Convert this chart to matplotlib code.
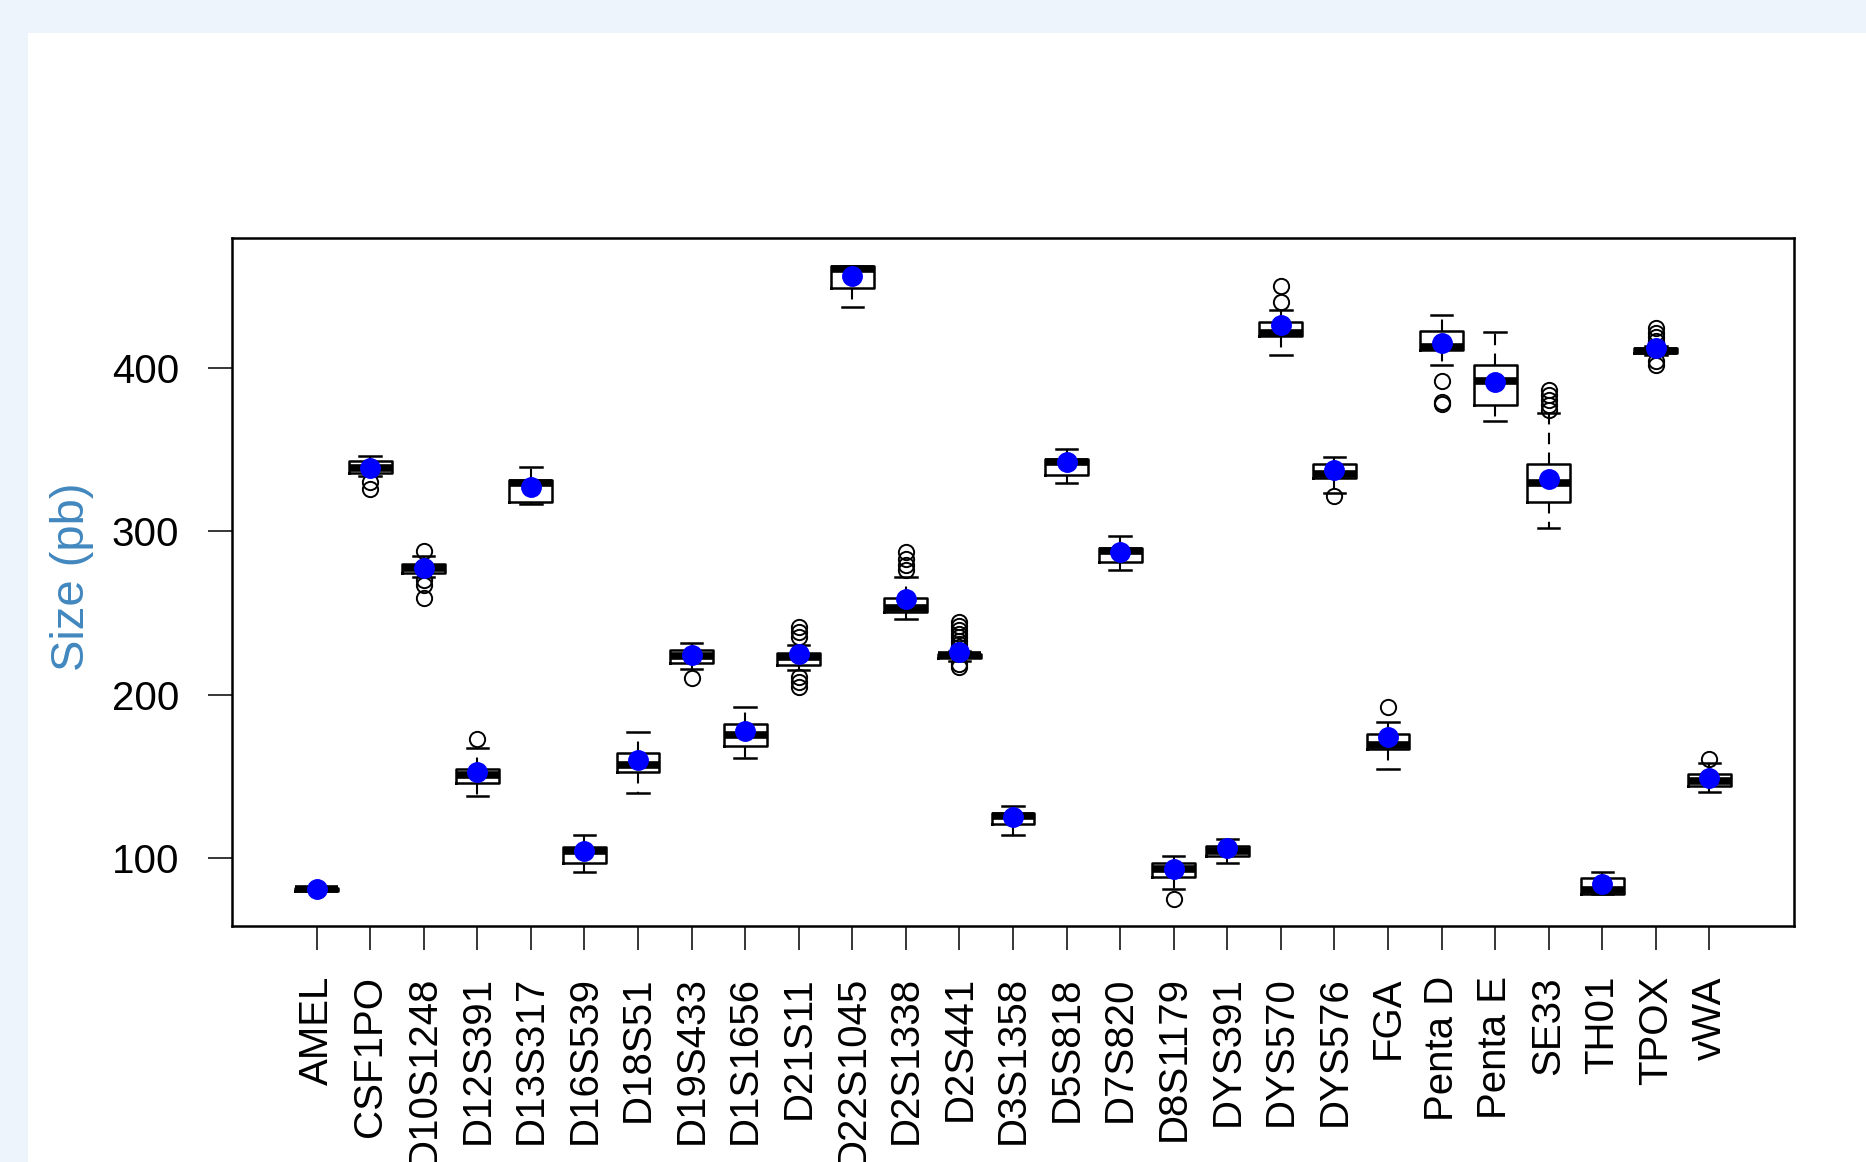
import numpy as np
import matplotlib.pyplot as plt
from matplotlib.patches import Rectangle

plt.rcParams['font.family'] = ['Liberation Sans', 'DejaVu Sans']

# STR loci on the x axis
loci = ['AMEL', 'CSF1PO', 'D10S1248', 'D12S391', 'D13S317', 'D16S539', 'D18S51',
        'D19S433', 'D1S1656', 'D21S11', 'D22S1045', 'D2S1338', 'D2S441', 'D3S1358',
        'D5S818', 'D7S820', 'D8S1179', 'DYS391', 'DYS570', 'DYS576', 'FGA',
        'Penta D', 'Penta E', 'SE33', 'TH01', 'TPOX', 'vWA']

# box statistics (size in pb)
whislo = [79.8, 333.5, 272.0, 138.3, 316.8, 91.8, 140.0, 215.5, 161.0, 215.1,
          437.0, 246.0, 220.5, 114.2, 329.7, 276.4, 81.4, 97.0, 407.6, 323.4,
          154.4, 401.6, 367.6, 301.7, 77.9, 407.6, 140.2]
q1 = [80.0, 335.7, 274.2, 146.2, 318.0, 97.0, 152.9, 219.2, 168.6, 218.1,
      448.6, 250.4, 222.5, 121.1, 334.3, 281.0, 88.2, 101.4, 419.1, 332.4,
      167.0, 410.8, 377.2, 318.0, 77.9, 409.0, 144.3]
med = [81.0, 338.5, 277.5, 151.1, 329.4, 104.6, 157.0, 223.5, 175.3, 223.2,
       460.5, 252.9, 224.0, 126.0, 342.0, 287.9, 93.2, 104.1, 421.3, 335.2,
       168.9, 412.8, 392.0, 329.7, 80.5, 410.4, 147.0]
q3 = [81.8, 343.0, 280.2, 154.7, 331.1, 106.6, 164.1, 227.3, 182.0, 225.3,
      462.3, 259.1, 225.0, 127.9, 343.9, 289.8, 97.0, 107.4, 428.1, 341.2,
      175.7, 422.6, 401.6, 340.9, 87.7, 412.0, 151.7]
whishi = [82.0, 345.8, 284.6, 167.5, 339.3, 114.2, 177.0, 231.8, 192.6, 230.4,
          462.3, 272.0, 227.0, 132.0, 350.2, 297.2, 101.4, 111.5, 435.5, 345.3,
          183.1, 432.2, 422.0, 372.5, 91.8, 413.1, 158.0]
means = [81.3, 338.4, 277.5, 152.5, 326.7, 104.1, 160.0, 224.2, 177.9, 224.6,
         456.0, 258.3, 225.8, 125.2, 342.0, 287.3, 93.2, 106.0, 426.0, 337.1,
         173.8, 414.9, 391.4, 331.7, 84.1, 412.3, 148.9]
outliers = [
    [], [330.0, 325.5], [288.0, 270.0, 267.0, 259.0], [173.0], [], [], [],
    [210.0], [], [241.5, 238.5, 235.0, 211.0, 207.5, 204.5],
    [], [276.0, 279.5, 283.0, 287.0],
    [229.0, 231.0, 233.0, 235.0, 237.0, 239.5, 242.0, 244.5, 218.5, 217.0],
    [], [], [], [75.0], [], [440.4, 449.7], [321.5],
    [192.2], [391.9, 379.0, 378.0], [], [374.0, 377.2, 380.5, 383.3, 386.3],
    [], [416.5, 419.0, 421.5, 424.0, 404.0, 401.5], [160.7],
]

stats = []
for i, name in enumerate(loci):
    stats.append(dict(label=name, whislo=whislo[i], q1=q1[i], med=med[i], q3=q3[i],
                      whishi=whishi[i], mean=means[i], fliers=outliers[i]))

W, H = 1866, 1162
fig = plt.figure(figsize=(W / 100, H / 100), dpi=100, facecolor='#edf4fb')
# white page panel
fig.add_artist(Rectangle((28 / W, 0), 1, 1 - 33 / H, transform=fig.transFigure,
                         facecolor='white', edgecolor='none', zorder=0))

ax = fig.add_axes([232 / W, 1 - 926 / H, (1794 - 232) / W, (926 - 238) / H])

pos = np.arange(1, len(loci) + 1)
ax.bxp(stats, positions=pos, widths=0.8, capwidths=0.4, showmeans=True,
       boxprops=dict(color='black', linewidth=1.8),
       whiskerprops=dict(color='black', linewidth=1.5, linestyle=(0, (5.5, 4))),
       capprops=dict(color='black', linewidth=1.8),
       medianprops=dict(color='black', linewidth=5.5, solid_capstyle='butt'),
       flierprops=dict(marker='o', markerfacecolor='none', markeredgecolor='black',
                       markersize=11, markeredgewidth=1.4),
       meanprops=dict(marker='o', markerfacecolor='#0000ff', markeredgecolor='#0000ff',
                      markersize=14))

n = len(loci)
ax.set_xlim(0.5 - 0.04 * n, n + 0.5 + 0.04 * n)
ax.set_ylim(58.5, 479.3)
ax.set_yticks([100, 200, 300, 400])
ax.set_xticks(pos)
ax.set_xticklabels(loci, rotation=90)

for s in ax.spines.values():
    s.set_linewidth(1.8)
ax.tick_params(axis='both', length=17, width=1.1, labelsize=29)
ax.tick_params(axis='y', pad=21)
ax.tick_params(axis='x', pad=19)

fig.text(72 / W, 1 - 577 / H, 'Size (pb)', rotation=90, ha='center', va='center',
         fontsize=34, color='#4187be')

fig.savefig('out.png', dpi=100, facecolor=fig.get_facecolor())
